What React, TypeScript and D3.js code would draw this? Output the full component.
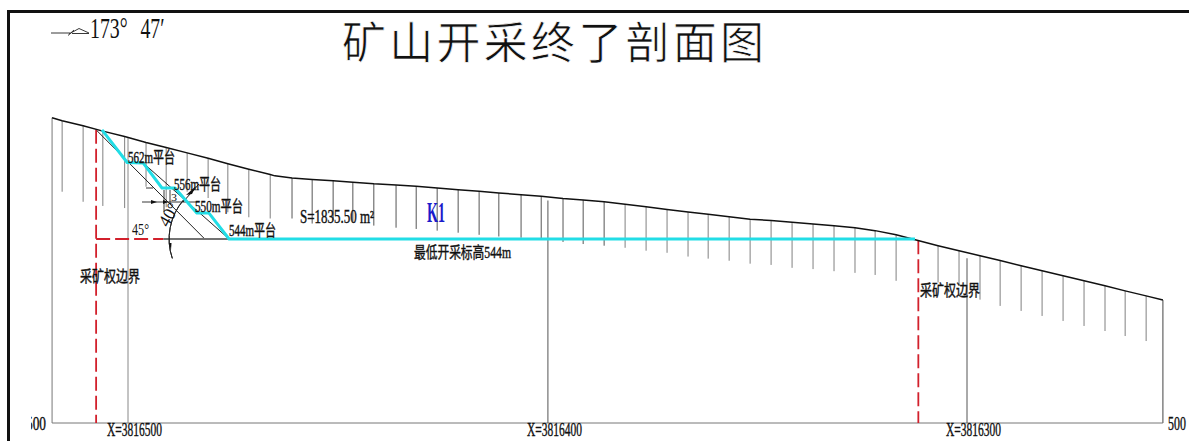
import React from "react";
import * as d3 from "d3";

const TITLE = "矿山开采终了剖面图";
const BEARING_DEG = "173° ";
const BEARING_MIN = "47′";
const northingTicks = [3816500, 3816400, 3816300];
const elevationLabel = 500;

// stations: metres south of X=3816500
const groundStation = [-18.1, -15.7, -10.7, -6.0, -0.8, 4.3, 9.1, 14.1, 19.1, 23.8, 28.8, 33.9, 35.0, 39.1, 43.9, 48.9, 53.6, 58.6, 63.9, 68.7, 73.7, 78.7, 83.7, 88.4, 93.7, 98.5, 103.7, 108.5, 113.5, 118.5, 123.5, 128.5, 133.5, 138.3, 143.3, 148.3, 153.3, 158.3, 163.3, 168.3, 173.3, 178.1, 183.1, 188.1, 193.1, 198.1, 203.1, 207.9, 212.9, 217.9, 222.9, 227.9, 232.9, 237.7, 242.7, 246.7];
const groundElevation = [573.0, 572.3, 571.1, 569.8, 568.5, 567.1, 565.9, 564.6, 563.3, 562.0, 560.7, 559.4, 559.1, 558.6, 558.25, 557.9, 557.6, 557.2, 556.9, 556.6, 556.2, 555.8, 555.4, 555.0, 554.6, 554.2, 553.7, 553.35, 552.9, 552.3, 551.7, 551.05, 550.45, 549.9, 549.3, 548.75, 548.4, 548.0, 547.6, 547.15, 546.7, 546.0, 545.0, 543.7, 542.4, 541.2, 540.0, 538.85, 537.6, 536.4, 535.2, 534.0, 532.8, 531.6, 530.4, 529.4];

const hachureStation = [-15.7, -10.7, -6.0, -0.8, 4.3, 9.1, 14.1, 19.1, 23.8, 28.8, 33.9, 39.1, 43.9, 48.9, 53.6, 58.6, 63.9, 68.7, 73.7, 78.7, 83.7, 88.4, 93.7, 98.5, 103.7, 108.5, 113.5, 118.5, 123.5, 128.5, 133.5, 138.3, 143.3, 148.3, 153.3, 158.3, 163.3, 168.3, 173.3, 178.1, 183.1, 193.1, 198.1, 203.1, 207.9, 212.9, 217.9, 222.9, 227.9, 232.9, 237.7, 242.7];
const hachureTop = [572.3, 571.1, 569.8, 568.5, 567.1, 565.9, 564.6, 563.3, 562.0, 560.7, 559.4, 558.6, 558.25, 557.9, 557.6, 557.2, 556.9, 556.6, 556.2, 555.8, 555.4, 555.0, 554.6, 554.2, 553.7, 553.35, 552.9, 552.3, 551.7, 551.05, 550.45, 549.9, 549.3, 548.75, 548.4, 548.0, 547.6, 547.15, 546.7, 546.0, 545.0, 542.4, 541.2, 540.0, 538.85, 537.6, 536.4, 535.2, 534.0, 532.8, 531.6, 530.4];
const hachureBottom = [555.3, 552.9, 551.9, 551.4, 556.5, 551.6, 555.3, 553.8, 550.4, 549.2, 548.9, 548.9, 547.7, 548.4, 547.9, 547.2, 546.7, 546.4, 546.0, 545.5, 545.0, 544.6, 544.3, 544.0, 543.3, 542.8, 542.4, 541.9, 541.2, 540.7, 539.8, 539.3, 538.8, 538.1, 537.8, 537.1, 536.8, 536.3, 535.9, 535.4, 534.0, 533.6, 533.1, 529.5, 528.0, 526.8, 525.6, 524.4, 523.2, 522.0, 520.8, 519.6];

const pitStation = [-6.2, -0.2, 3.6, 8.1, 11.2, 16.4, 19.3, 24.1, 187.6];
const pitElevation = [570.1, 562.3, 562.2, 556.2, 556.2, 550.2, 550.2, 544.0, 544.0];

const limit45Station = [-7.6, 18.1];
const limit45Elevation = [570.1, 544.2];
const slope40Station = [3.6, 24.1];
const slope40Elevation = [562.2, 544.0];

const boundaryStations = [-7.6, 188.4];
const boundaryTop = [570.1, 543.7];
const baseElevation = 500;
const floorElevation = 544;

const gridStations = [0, 100.1, 200];
const gridTops = [568.3, 553.2, 539.4];

const x = d3.scaleLinear().domain([0, 100]).range([128, 547.5]);
const y = d3.scaleLinear().domain([500, 544]).range([423, 239]);

const CJK = "'Noto Sans CJK SC','Liberation Serif',serif";
const SERIF = "'Liberation Serif','Noto Sans CJK SC',serif";

function Label(p: { x: number; y: number; w: number; size: number; text: string; fill?: string; font?: string; weight?: number; rotate?: number; stroke?: number }) {
  return (
    <text
      x={p.x}
      y={p.y}
      fontSize={p.size}
      fontFamily={p.font ?? SERIF}
      fontWeight={p.weight ?? 400}
      fill={p.fill ?? "#111"}
      stroke={p.stroke ? (p.fill ?? "#111") : undefined}
      strokeWidth={p.stroke}
      textLength={p.w}
      lengthAdjust="spacingAndGlyphs"
      transform={p.rotate ? `rotate(${p.rotate} ${p.x} ${p.y})` : undefined}
    >
      {p.text}
    </text>
  );
}

export default function App() {
  const ground = d3.line<number>().x((s) => x(s)).y((_, i) => y(groundElevation[i]))(groundStation) ?? "";
  const pit = d3.line<number>().x((s) => x(s)).y((_, i) => y(pitElevation[i]))(pitStation) ?? "";
  const line45 = d3.line<number>().x((s) => x(s)).y((_, i) => y(limit45Elevation[i]))(limit45Station) ?? "";
  const line40 = d3.line<number>().x((s) => x(s)).y((_, i) => y(slope40Elevation[i]))(slope40Station) ?? "";
  const x0 = x(groundStation[0]);
  const xEnd = x(groundStation[groundStation.length - 1]);
  const arcCx = x(24.1);
  const arcCy = y(floorElevation);
  const arcR = 60;
  const arc = d3.arc()({ innerRadius: arcR, outerRadius: arcR, startAngle: -1.9, endAngle: -0.86 }) ?? "";
  return (
    <svg width={1189} height={441} viewBox="0 0 1189 441" style={{ position: "absolute", left: 0, top: 0, background: "#fff" }}>
      <defs>
        <clipPath id="leftLabel"><rect x={31} y={410} width={30} height={30} /></clipPath>
      </defs>
      <path d="M8.5 441 V11.5 H1189" fill="none" stroke="#111" strokeWidth={3} />

      {/* bearing symbol */}
      <path d="M51 33 H70 M69 34 L79 28.5 L89 33 M72 33.5 H89 M68 35.5 L74 30" fill="none" stroke="#222" strokeWidth={0.9} />
      <text transform="translate(90,38) scale(0.66,1)" fontSize={30} fontFamily={SERIF} fill="#111" xmlSpace="preserve">
        {BEARING_DEG}<tspan dx={12}>{BEARING_MIN}</tspan>
      </text>
      <text x={342} y={59} fontSize={44} fontFamily={CJK} fill="#111" stroke="#fff" strokeWidth={0.7} textLength={422} lengthAdjust="spacing">{TITLE}</text>

      {/* frame lines */}
      <line x1={x0} x2={x0} y1={y(groundElevation[0])} y2={y(baseElevation)} stroke="#777" strokeWidth={1} />
      <line x1={xEnd} x2={xEnd} y1={y(groundElevation[groundElevation.length - 1])} y2={y(baseElevation)} stroke="#444" strokeWidth={1} />
      <line x1={x0} x2={xEnd} y1={y(baseElevation)} y2={y(baseElevation)} stroke="#777" strokeWidth={1} />
      {gridStations.map((s, i) => (
        <line key={s} x1={x(s)} x2={x(s)} y1={y(gridTops[i])} y2={y(baseElevation)} stroke={i === 0 ? "#888" : "#555"} strokeWidth={1} />
      ))}

      {/* hachures */}
      {hachureStation.map((s, i) => (
        <line key={s} x1={x(s)} x2={x(s)} y1={y(hachureTop[i])} y2={y(hachureBottom[i])} stroke={s > 35 && s < 114 ? "#555" : "#808080"} strokeWidth={1} />
      ))}

      {/* slope construction */}
      <path d={line45} fill="none" stroke="#222" strokeWidth={1} />
      <path d={line40} fill="none" stroke="#222" strokeWidth={1} />
      <line x1={x(8.4)} x2={x(24.1)} y1={arcCy} y2={arcCy} stroke="#444" strokeWidth={1.5} />
      <path d={arc} transform={`translate(${arcCx},${arcCy})`} fill="none" stroke="#222" strokeWidth={1} />
      <path d="M169 243 L171.5 243 L171 250 Z" fill="#111" />
      <path d="M183 202 L199 184" stroke="#111" strokeWidth={1} />
      <path d="M186 195 L196 186 L192 194 Z" fill="#111" />
      <path d="M142 202 H197 M146 188 H153 M164 190 V212 M170 190 V204" fill="none" stroke="#222" strokeWidth={0.9} />
      <path d="M151 200 L157 202 L151 204 Z M163 200 L168 202 L163 204 Z" fill="#111" />

      {/* boundaries */}
      {boundaryStations.map((s, i) => (
        <line key={s} x1={x(s)} x2={x(s)} y1={y(boundaryTop[i])} y2={y(baseElevation)} stroke="#d2202c" strokeWidth={1.8} strokeDasharray="14 5" />
      ))}
      <line x1={x(boundaryStations[0])} x2={x(8.4)} y1={arcCy} y2={arcCy} stroke="#d2202c" strokeWidth={1.8} strokeDasharray="14 5" />

      {/* ground and pit */}
      <path d={ground} fill="none" stroke="#111" strokeWidth={1.5} />
      <path d={pit} fill="none" stroke="#22dde6" strokeWidth={3} strokeLinejoin="round" />

      {/* labels */}
      <Label x={128} y={163} w={47} size={16} stroke={0.4} text="562m平台" />
      <Label x={174} y={190} w={47} size={16} stroke={0.4} text="556m平台" />
      <Label x={195} y={212} w={48} size={16} stroke={0.4} text="550m平台" />
      <Label x={229} y={236} w={47} size={16} stroke={0.4} text="544m平台" />
      <Label x={132} y={235} w={17} size={17} text="45°" />
      <Label x={171} y={201} w={6} size={11} text="3" />
      <Label x={168} y={228} w={24} size={18} text="40°" rotate={-60} />
      <Label x={300} y={223} w={74} size={18} stroke={0.4} text="S=1835.50 m²" />
      <Label x={427} y={222} w={18} size={30} weight={700} text="K1" fill="#1a1acb" />
      <Label x={414} y={258} w={97} size={16} stroke={0.4} text="最低开采标高544m" />
      <Label x={80} y={282} w={60} size={16} stroke={0.4} text="采矿权边界" />
      <Label x={920} y={296} w={60} size={16} stroke={0.4} text="采矿权边界" />

      {northingTicks.map((t, i) => (
        <Label key={t} x={x(gridStations[i]) - 21} y={436} w={55} size={19} stroke={0.4} text={`X=${t}`} />
      ))}
      <g clipPath="url(#leftLabel)">
        <Label x={26} y={430} w={20} size={18} stroke={0.4} text={String(elevationLabel)} />
      </g>
      <text transform="translate(1168,430) scale(0.66,1)" fontSize={18} fontFamily={SERIF} fill="#111" stroke="#111" strokeWidth={0.4}>{elevationLabel}</text>
    </svg>
  );
}
